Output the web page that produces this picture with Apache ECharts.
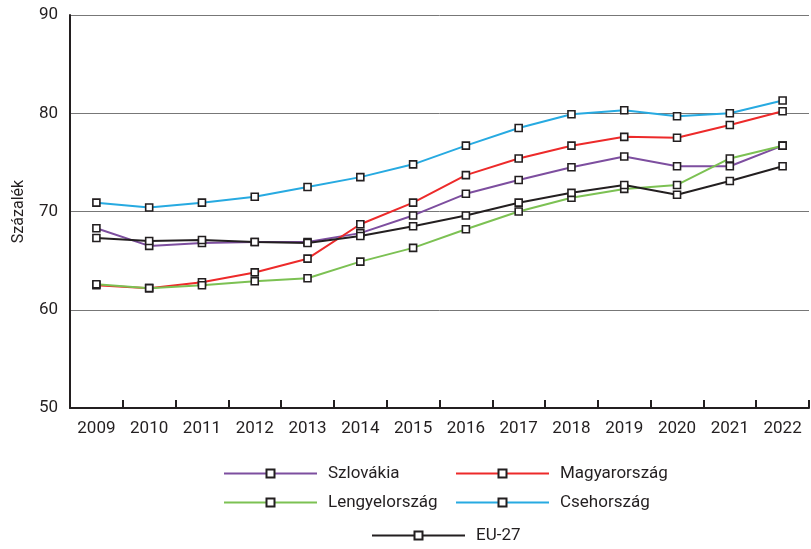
<!DOCTYPE html>
<html>
<head>
<meta charset="utf-8">
<script src="https://cdn.jsdelivr.net/npm/echarts@6/dist/echarts.min.js"></script>
<style>
  html, body { margin: 0; padding: 0; background: #fff; }
  #chart { width: 811px; height: 549px; }
</style>
</head>
<body>
<div id="chart"></div>
<script>
var years = ['2009', '2010', '2011', '2012', '2013', '2014', '2015', '2016', '2017', '2018', '2019', '2020', '2021', '2022']

var szlovakia = [68.3, 66.5, 66.8, 66.9, 66.9, 67.8, 69.6, 71.8, 73.2, 74.5, 75.6, 74.6, 74.6, 76.7]
var magyarorszag = [62.5, 62.2, 62.8, 63.8, 65.2, 68.7, 70.9, 73.7, 75.4, 76.7, 77.6, 77.5, 78.8, 80.2]
var lengyelorszag = [62.6, 62.2, 62.5, 62.9, 63.2, 64.9, 66.3, 68.2, 70.0, 71.4, 72.3, 72.7, 75.4, 76.7]
var csehorszag = [70.9, 70.4, 70.9, 71.5, 72.5, 73.5, 74.8, 76.7, 78.5, 79.9, 80.3, 79.7, 80.0, 81.3]
var eu27 = [67.3, 67.0, 67.1, 66.9, 66.8, 67.5, 68.5, 69.6, 70.9, 71.9, 72.7, 71.7, 73.1, 74.6]

var FONT = 'Roboto, "DejaVu Sans Condensed", sans-serif'
var INK = '#231f20'

function makeSeries(name, data, color) {
  return {
    name: name,
    type: 'line',
    data: data,
    symbol: 'rect',
    symbolSize: 7,
    showAllSymbol: true,
    lineStyle: { color: color, width: 2 },
    itemStyle: { color: '#fff', borderColor: INK, borderWidth: 1.6 },
    emphasis: { disabled: true },
    animation: false
  }
}

// one legend per item so each can be placed like the original
function makeLegend(name, left, top) {
  return {
    data: [name],
    left: left,
    top: top,
    padding: 0,
    itemWidth: 93,
    itemHeight: 10,
    textStyle: { fontFamily: FONT, fontSize: 17, color: INK, padding: [0, 0, 0, 6] }
  }
}

var chart = echarts.init(document.getElementById('chart'))
chart.setOption({
  backgroundColor: '#fff',
  textStyle: { fontFamily: FONT },
  legend: [
    makeLegend('Szlovákia', 223, 465),
    makeLegend('Magyarország', 455, 465),
    makeLegend('Lengyelország', 223, 494),
    makeLegend('Csehország', 455, 494),
    makeLegend('EU-27', 371, 527)
  ],
  grid: {
    left: 70,
    right: 2,
    top: 15,
    bottom: 141
  },
  xAxis: {
    type: 'category',
    data: years,
    boundaryGap: true,
    axisLine: { lineStyle: { color: INK, width: 2 } },
    axisTick: { show: true, inside: true, interval: 0, length: 8, lineStyle: { color: INK, width: 2 } },
    axisLabel: { fontFamily: FONT, fontSize: 17, color: INK, margin: 12, interval: 0 }
  },
  yAxis: {
    type: 'value',
    min: 50,
    max: 90,
    interval: 10,
    name: 'Százalék',
    nameLocation: 'middle',
    nameGap: 43,
    nameTextStyle: { fontFamily: FONT, fontSize: 16, color: INK },
    axisLine: { show: true, lineStyle: { color: INK, width: 2 } },
    axisTick: { show: false },
    axisLabel: { fontFamily: FONT, fontSize: 17, color: INK, margin: 12 },
    splitLine: { lineStyle: { color: '#777', width: 1 } }
  },
  series: [
    makeSeries('Szlovákia', szlovakia, '#7d4e9f'),
    makeSeries('Magyarország', magyarorszag, '#ed2a2a'),
    makeSeries('Lengyelország', lengyelorszag, '#7cc153'),
    makeSeries('Csehország', csehorszag, '#27aae1'),
    makeSeries('EU-27', eu27, INK)
  ]
})
</script>
</body>
</html>
